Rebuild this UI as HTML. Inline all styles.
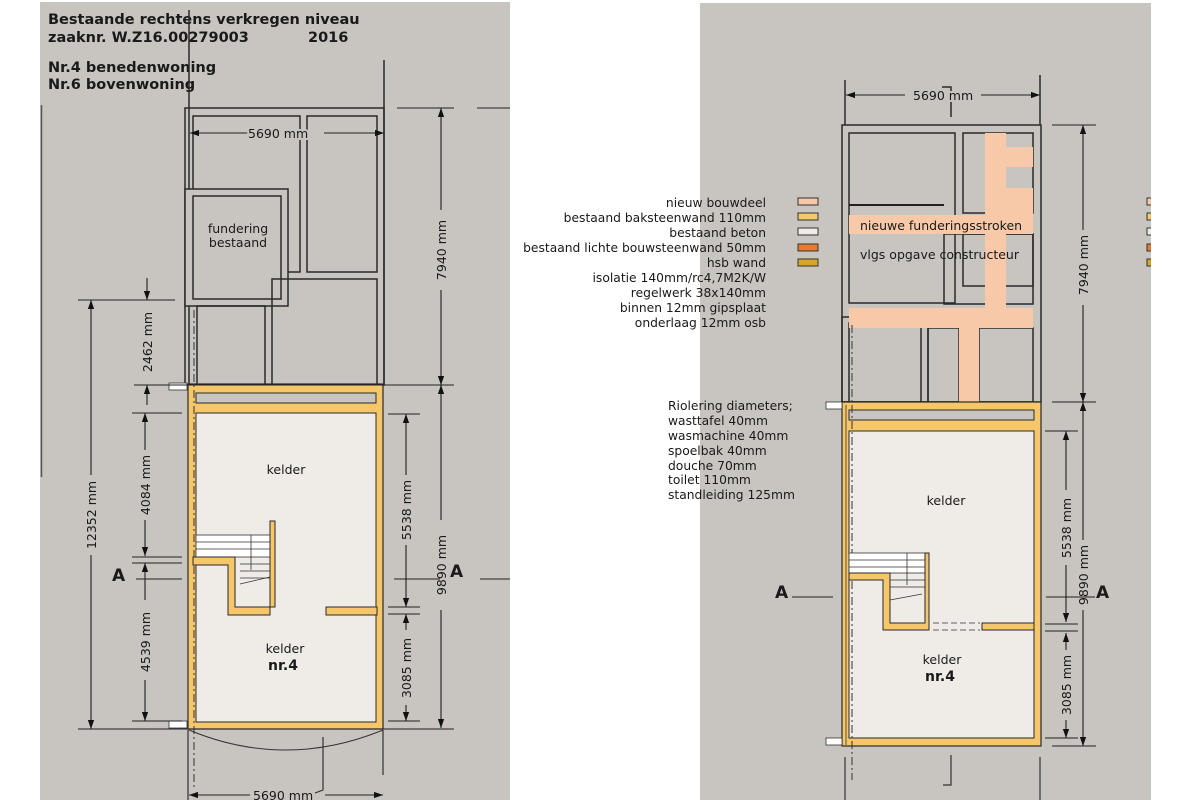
<!DOCTYPE html>
<html><head><meta charset="utf-8"><style>
html,body{margin:0;padding:0;background:#fff;}
svg{display:block;}
text{font-family:"DejaVu Sans","Liberation Sans",sans-serif;fill:#1a1a1a;}
</style></head><body>
<svg width="1200" height="800" viewBox="0 0 1200 800" xmlns="http://www.w3.org/2000/svg">
<defs>
<marker id="ar" viewBox="0 0 10 10" refX="10" refY="5" markerWidth="9" markerHeight="9" orient="auto-start-reverse" markerUnits="userSpaceOnUse"><path d="M0,1.5 L10,5 L0,8.5 z" fill="#111"/></marker>
</defs>
<rect width="1200" height="800" fill="#fff"/>
<rect x="40" y="2" width="470" height="798" fill="#c8c4bf"/>
<rect x="700" y="3" width="451" height="797" fill="#c8c4bf"/>
<line x1="41.5" y1="105" x2="41.5" y2="477" stroke="#555" stroke-width="1.5"/>

<g font-weight="bold" font-size="14.5">
<text x="48" y="24">Bestaande rechtens verkregen niveau</text>
<text x="48" y="42">zaaknr. W.Z16.00279003</text>
<text x="308" y="42">2016</text>
<text x="48" y="72">Nr.4 benedenwoning</text>
<text x="48" y="89">Nr.6 bovenwoning</text>
</g>

<g fill="none" stroke="#2a2a2a" stroke-width="1.5">
<line x1="189" y1="10" x2="189" y2="385"/>
<line x1="384" y1="60" x2="384" y2="385"/>
<rect x="185" y="108" width="199" height="277"/>
<rect x="193" y="116" width="107" height="156"/>
<rect x="307" y="116" width="70" height="156"/>
<rect x="185" y="189" width="103" height="117" fill="#c8c4bf"/>
<rect x="193" y="196" width="88" height="103"/>
<rect x="197" y="306" width="68" height="79"/>
<rect x="272" y="279" width="105" height="106"/>
</g>
<text x="238" y="233" font-size="12.5" text-anchor="middle">fundering</text>
<text x="238" y="247" font-size="12.5" text-anchor="middle">bestaand</text>
<rect x="188" y="384" width="195" height="345" fill="#f5c76a" stroke="#2a2a2a" stroke-width="1.2"/>
<rect x="196" y="413" width="180" height="309" fill="#efece8" stroke="#2a2a2a" stroke-width="1"/>
<rect x="196" y="393" width="180" height="10" fill="#c8c4bf" stroke="#2a2a2a" stroke-width="1"/>
<rect x="169" y="383" width="18" height="7" fill="#fff" stroke="#333" stroke-width="0.8"/>
<rect x="169" y="721" width="18" height="7" fill="#fff" stroke="#333" stroke-width="0.8"/>
<line x1="194" y1="310" x2="194" y2="790" stroke="#333" stroke-dasharray="8,3,2,3"/>
<rect x="196" y="535" width="74" height="22" fill="#fff" stroke="#333" stroke-width="0.8"/>
<g stroke="#333" stroke-width="0.8">
<line x1="196" y1="542" x2="270" y2="542"/><line x1="196" y1="549" x2="270" y2="549"/>
<line x1="240" y1="564" x2="270" y2="564"/><line x1="240" y1="571" x2="270" y2="571"/>
<line x1="240" y1="578" x2="270" y2="578"/><line x1="240" y1="584" x2="270" y2="577"/>
<line x1="251" y1="535" x2="251" y2="570"/>
</g>
<path d="M193,557 H235 V607 H275 V521 H270 V615 H228 V565 H193 z" fill="#f5c76a" stroke="#2a2a2a" stroke-width="1"/>
<rect x="326" y="607" width="51" height="8" fill="#f5c76a" stroke="#2a2a2a" stroke-width="1"/>
<text x="286" y="474" font-size="12.5" text-anchor="middle">kelder</text>
<text x="285" y="653" font-size="12.5" text-anchor="middle">kelder</text>
<text x="283" y="670" font-size="14" font-weight="bold" text-anchor="middle">nr.4</text>
<path d="M189,730 Q285,770 383,730" fill="none" stroke="#333"/>
<g stroke="#333" stroke-width="1.2">
<line x1="188" y1="730" x2="188" y2="800"/><line x1="383" y1="730" x2="383" y2="775"/>
<polyline points="323,737 323,790 315,793" fill="none"/>
</g>
<g stroke="#222" stroke-width="1.1" fill="none">
<line x1="190" y1="133" x2="250" y2="133" marker-start="url(#ar)"/>
<line x1="324" y1="133" x2="384" y2="133" marker-end="url(#ar)"/>
<line x1="189" y1="795" x2="250" y2="795" marker-start="url(#ar)"/>
<line x1="325" y1="795" x2="383" y2="795" marker-end="url(#ar)"/>
<line x1="397" y1="108" x2="454" y2="108"/><line x1="477" y1="108" x2="510" y2="108"/>
<line x1="441" y1="108" x2="441" y2="210" marker-start="url(#ar)"/>
<line x1="441" y1="290" x2="441" y2="385" marker-end="url(#ar)"/>
<line x1="134" y1="385" x2="454" y2="385"/>
<line x1="441" y1="385" x2="441" y2="520" marker-start="url(#ar)"/>
<line x1="441" y1="610" x2="441" y2="728" marker-end="url(#ar)"/>
<line x1="78" y1="729" x2="454" y2="729"/>
<line x1="388" y1="414" x2="420" y2="414"/>
<line x1="406" y1="414" x2="406" y2="475" marker-start="url(#ar)"/>
<line x1="406" y1="545" x2="406" y2="607" marker-end="url(#ar)"/>
<line x1="388" y1="607" x2="420" y2="607"/><line x1="388" y1="614" x2="420" y2="614"/>
<line x1="406" y1="614" x2="406" y2="630" marker-start="url(#ar)"/>
<line x1="406" y1="705" x2="406" y2="721" marker-end="url(#ar)"/>
<line x1="388" y1="721" x2="420" y2="721"/>
<line x1="394" y1="579" x2="440" y2="579"/><line x1="480" y1="579" x2="510" y2="579"/>
<line x1="147" y1="278" x2="147" y2="300" marker-end="url(#ar)"/>
<line x1="78" y1="300" x2="175" y2="300"/>
<line x1="91" y1="300" x2="91" y2="475" marker-start="url(#ar)"/>
<line x1="91" y1="555" x2="91" y2="729" marker-end="url(#ar)"/>
<line x1="147" y1="385" x2="147" y2="405" marker-start="url(#ar)"/>
<line x1="132" y1="413" x2="182" y2="413"/>
<line x1="145" y1="413" x2="145" y2="450" marker-start="url(#ar)"/>
<line x1="145" y1="520" x2="145" y2="556" marker-end="url(#ar)"/>
<line x1="132" y1="557" x2="182" y2="557"/><line x1="132" y1="563" x2="182" y2="563"/>
<line x1="136" y1="579" x2="182" y2="579"/>
<line x1="145" y1="563" x2="145" y2="600" marker-start="url(#ar)"/>
<line x1="145" y1="680" x2="145" y2="721" marker-end="url(#ar)"/>
<line x1="132" y1="721" x2="182" y2="721"/>
</g>
<g font-size="12.5">
<text x="248" y="138" style="paint-order:stroke" stroke="#c8c4bf" stroke-width="4">5690 mm</text>
<text x="253" y="800">5690 mm</text>
<text transform="translate(446,250) rotate(-90)" text-anchor="middle">7940 mm</text>
<text transform="translate(446,565) rotate(-90)" text-anchor="middle">9890 mm</text>
<text transform="translate(411,510) rotate(-90)" text-anchor="middle">5538 mm</text>
<text transform="translate(411,668) rotate(-90)" text-anchor="middle">3085 mm</text>
<text transform="translate(96,515) rotate(-90)" text-anchor="middle">12352 mm</text>
<text transform="translate(152,342) rotate(-90)" text-anchor="middle">2462 mm</text>
<text transform="translate(150,485) rotate(-90)" text-anchor="middle">4084 mm</text>
<text transform="translate(150,642) rotate(-90)" text-anchor="middle">4539 mm</text>
</g>
<text x="112" y="581" font-size="17" font-weight="bold">A</text>
<text x="450" y="577" font-size="17" font-weight="bold">A</text>

<g font-size="12.3" text-anchor="end">
<text x="766" y="207">nieuw bouwdeel</text>
<text x="766" y="222">bestaand  baksteenwand 110mm</text>
<text x="766" y="237">bestaand  beton</text>
<text x="766" y="252">bestaand lichte bouwsteenwand 50mm</text>
<text x="766" y="267">hsb wand</text>
<text x="766" y="282">isolatie 140mm/rc4,7M2K/W</text>
<text x="766" y="297">regelwerk 38x140mm</text>
<text x="766" y="312">binnen 12mm gipsplaat</text>
<text x="766" y="327">onderlaag 12mm osb</text>
</g>
<g stroke="#333" stroke-width="1">
<rect x="798" y="198" width="20" height="7" fill="#f8c9a8"/>
<rect x="798" y="213" width="20" height="7" fill="#f5c76a"/>
<rect x="798" y="228" width="20" height="7" fill="#efece8"/>
<rect x="798" y="244" width="20" height="7" fill="#e8792f"/>
<rect x="798" y="259" width="20" height="7" fill="#d9a42a"/>
<rect x="1147" y="198" width="6" height="7" fill="#f8c9a8"/>
<rect x="1147" y="213" width="6" height="7" fill="#f5c76a"/>
<rect x="1147" y="228" width="6" height="7" fill="#efece8"/>
<rect x="1147" y="244" width="6" height="7" fill="#e8792f"/>
<rect x="1147" y="259" width="6" height="7" fill="#d9a42a"/>
</g>
<rect x="1151" y="0" width="49" height="800" fill="#fff"/>
<g font-size="12.3">
<text x="668" y="410">Riolering diameters;</text>
<text x="668" y="425">wasttafel 40mm</text>
<text x="668" y="440">wasmachine 40mm</text>
<text x="668" y="455">spoelbak 40mm</text>
<text x="668" y="470">douche 70mm</text>
<text x="668" y="484">toilet 110mm</text>
<text x="668" y="499">standleiding 125mm</text>
</g>

<g fill="none" stroke="#2a2a2a" stroke-width="1.5">
<rect x="842" y="125" width="199" height="277"/>
<line x1="845" y1="80" x2="845" y2="125"/><line x1="1040" y1="75" x2="1040" y2="125"/>
<rect x="849" y="133" width="106" height="170"/>
<rect x="963" y="133" width="70" height="80"/>
<rect x="944" y="234" width="89" height="70"/>
<rect x="963" y="234" width="70" height="52"/>
<rect x="842" y="317" width="86" height="85"/>
<rect x="849" y="323" width="72" height="79"/>
<rect x="928" y="328" width="31" height="74"/>
<rect x="979" y="328" width="54" height="74"/>
<polyline points="942,87 951,87 951,117"/>
</g>
<g fill="#f8c9a8">
<rect x="985" y="133" width="21" height="195"/>
<rect x="849" y="215" width="184" height="19"/>
<rect x="849" y="308" width="184" height="20"/>
<rect x="959" y="328" width="20" height="74"/>
<rect x="1006" y="147" width="27" height="20"/>
<rect x="1006" y="188" width="27" height="27"/>
</g>
<line x1="849" y1="205" x2="944" y2="205" stroke="#222" stroke-width="2"/>
<text x="860" y="230" font-size="12.5">nieuwe funderingsstroken</text>
<text x="860" y="259" font-size="12.5">vlgs opgave constructeur</text>
<rect x="842" y="402" width="199" height="344" fill="#f5c76a" stroke="#2a2a2a" stroke-width="1.2"/>
<rect x="849" y="431" width="185" height="307" fill="#efece8" stroke="#2a2a2a" stroke-width="1"/>
<rect x="849" y="410" width="185" height="10" fill="#c8c4bf" stroke="#2a2a2a" stroke-width="1"/>
<line x1="846" y1="405" x2="846" y2="745" stroke="#333" stroke-width="0.8"/>
<rect x="826" y="402" width="16" height="7" fill="#fff" stroke="#333" stroke-width="0.8"/>
<rect x="826" y="738" width="16" height="7" fill="#fff" stroke="#333" stroke-width="0.8"/>
<line x1="852" y1="325" x2="852" y2="780" stroke="#333" stroke-dasharray="8,3,2,3"/>
<rect x="849" y="553" width="76" height="20" fill="#fff" stroke="#333" stroke-width="0.8"/>
<g stroke="#333" stroke-width="0.8">
<line x1="849" y1="560" x2="925" y2="560"/><line x1="849" y1="567" x2="925" y2="567"/>
<line x1="890" y1="580" x2="925" y2="580"/><line x1="890" y1="587" x2="925" y2="587"/>
<line x1="890" y1="600" x2="922" y2="594"/><line x1="907" y1="553" x2="907" y2="585"/>
<line x1="933" y1="623" x2="980" y2="623" stroke-dasharray="6,3"/>
<line x1="933" y1="630" x2="980" y2="630" stroke-dasharray="6,3"/>
</g>
<path d="M849,573 H890 V623 H925 V553 H929 V630 H883 V580 H849 z" fill="#f5c76a" stroke="#2a2a2a" stroke-width="1"/>
<rect x="982" y="623" width="52" height="7" fill="#f5c76a" stroke="#2a2a2a" stroke-width="1"/>
<text x="946" y="505" font-size="12.5" text-anchor="middle">kelder</text>
<text x="942" y="664" font-size="12.5" text-anchor="middle">kelder</text>
<text x="940" y="681" font-size="14" font-weight="bold" text-anchor="middle">nr.4</text>
<g stroke="#333" stroke-width="1.2">
<line x1="845" y1="757" x2="845" y2="800"/><line x1="1040" y1="757" x2="1040" y2="800"/>
<polyline points="951,755 951,785 943,785" fill="none"/>
</g>
<g stroke="#222" stroke-width="1.1" fill="none">
<line x1="846" y1="95" x2="905" y2="95" marker-start="url(#ar)"/>
<line x1="981" y1="95" x2="1040" y2="95" marker-end="url(#ar)"/>
<line x1="1052" y1="125" x2="1096" y2="125"/>
<line x1="1083" y1="125" x2="1083" y2="230" marker-start="url(#ar)"/>
<line x1="1083" y1="305" x2="1083" y2="402" marker-end="url(#ar)"/>
<line x1="1052" y1="402" x2="1096" y2="402"/>
<line x1="1083" y1="402" x2="1083" y2="540" marker-start="url(#ar)"/>
<line x1="1083" y1="610" x2="1083" y2="746" marker-end="url(#ar)"/>
<line x1="1052" y1="746" x2="1096" y2="746"/>
<line x1="1045" y1="431" x2="1078" y2="431"/>
<line x1="1066" y1="431" x2="1066" y2="490" marker-start="url(#ar)"/>
<line x1="1066" y1="565" x2="1066" y2="622" marker-end="url(#ar)"/>
<line x1="1045" y1="624" x2="1078" y2="624"/><line x1="1045" y1="631" x2="1078" y2="631"/>
<line x1="1066" y1="633" x2="1066" y2="650" marker-start="url(#ar)"/>
<line x1="1066" y1="720" x2="1066" y2="738" marker-end="url(#ar)"/>
<line x1="1045" y1="738" x2="1078" y2="738"/>
<line x1="792" y1="597" x2="833" y2="597"/>
<line x1="1046" y1="597" x2="1095" y2="597"/>
</g>
<g font-size="12.5">
<text x="913" y="100" style="paint-order:stroke" stroke="#c8c4bf" stroke-width="4">5690 mm</text>
<text transform="translate(1088,265) rotate(-90)" text-anchor="middle">7940 mm</text>
<text transform="translate(1088,575) rotate(-90)" text-anchor="middle">9890 mm</text>
<text transform="translate(1071,528) rotate(-90)" text-anchor="middle">5538 mm</text>
<text transform="translate(1071,685) rotate(-90)" text-anchor="middle">3085 mm</text>
</g>
<text x="775" y="598" font-size="17" font-weight="bold">A</text>
<text x="1096" y="598" font-size="17" font-weight="bold">A</text>
</svg>
</body></html>
